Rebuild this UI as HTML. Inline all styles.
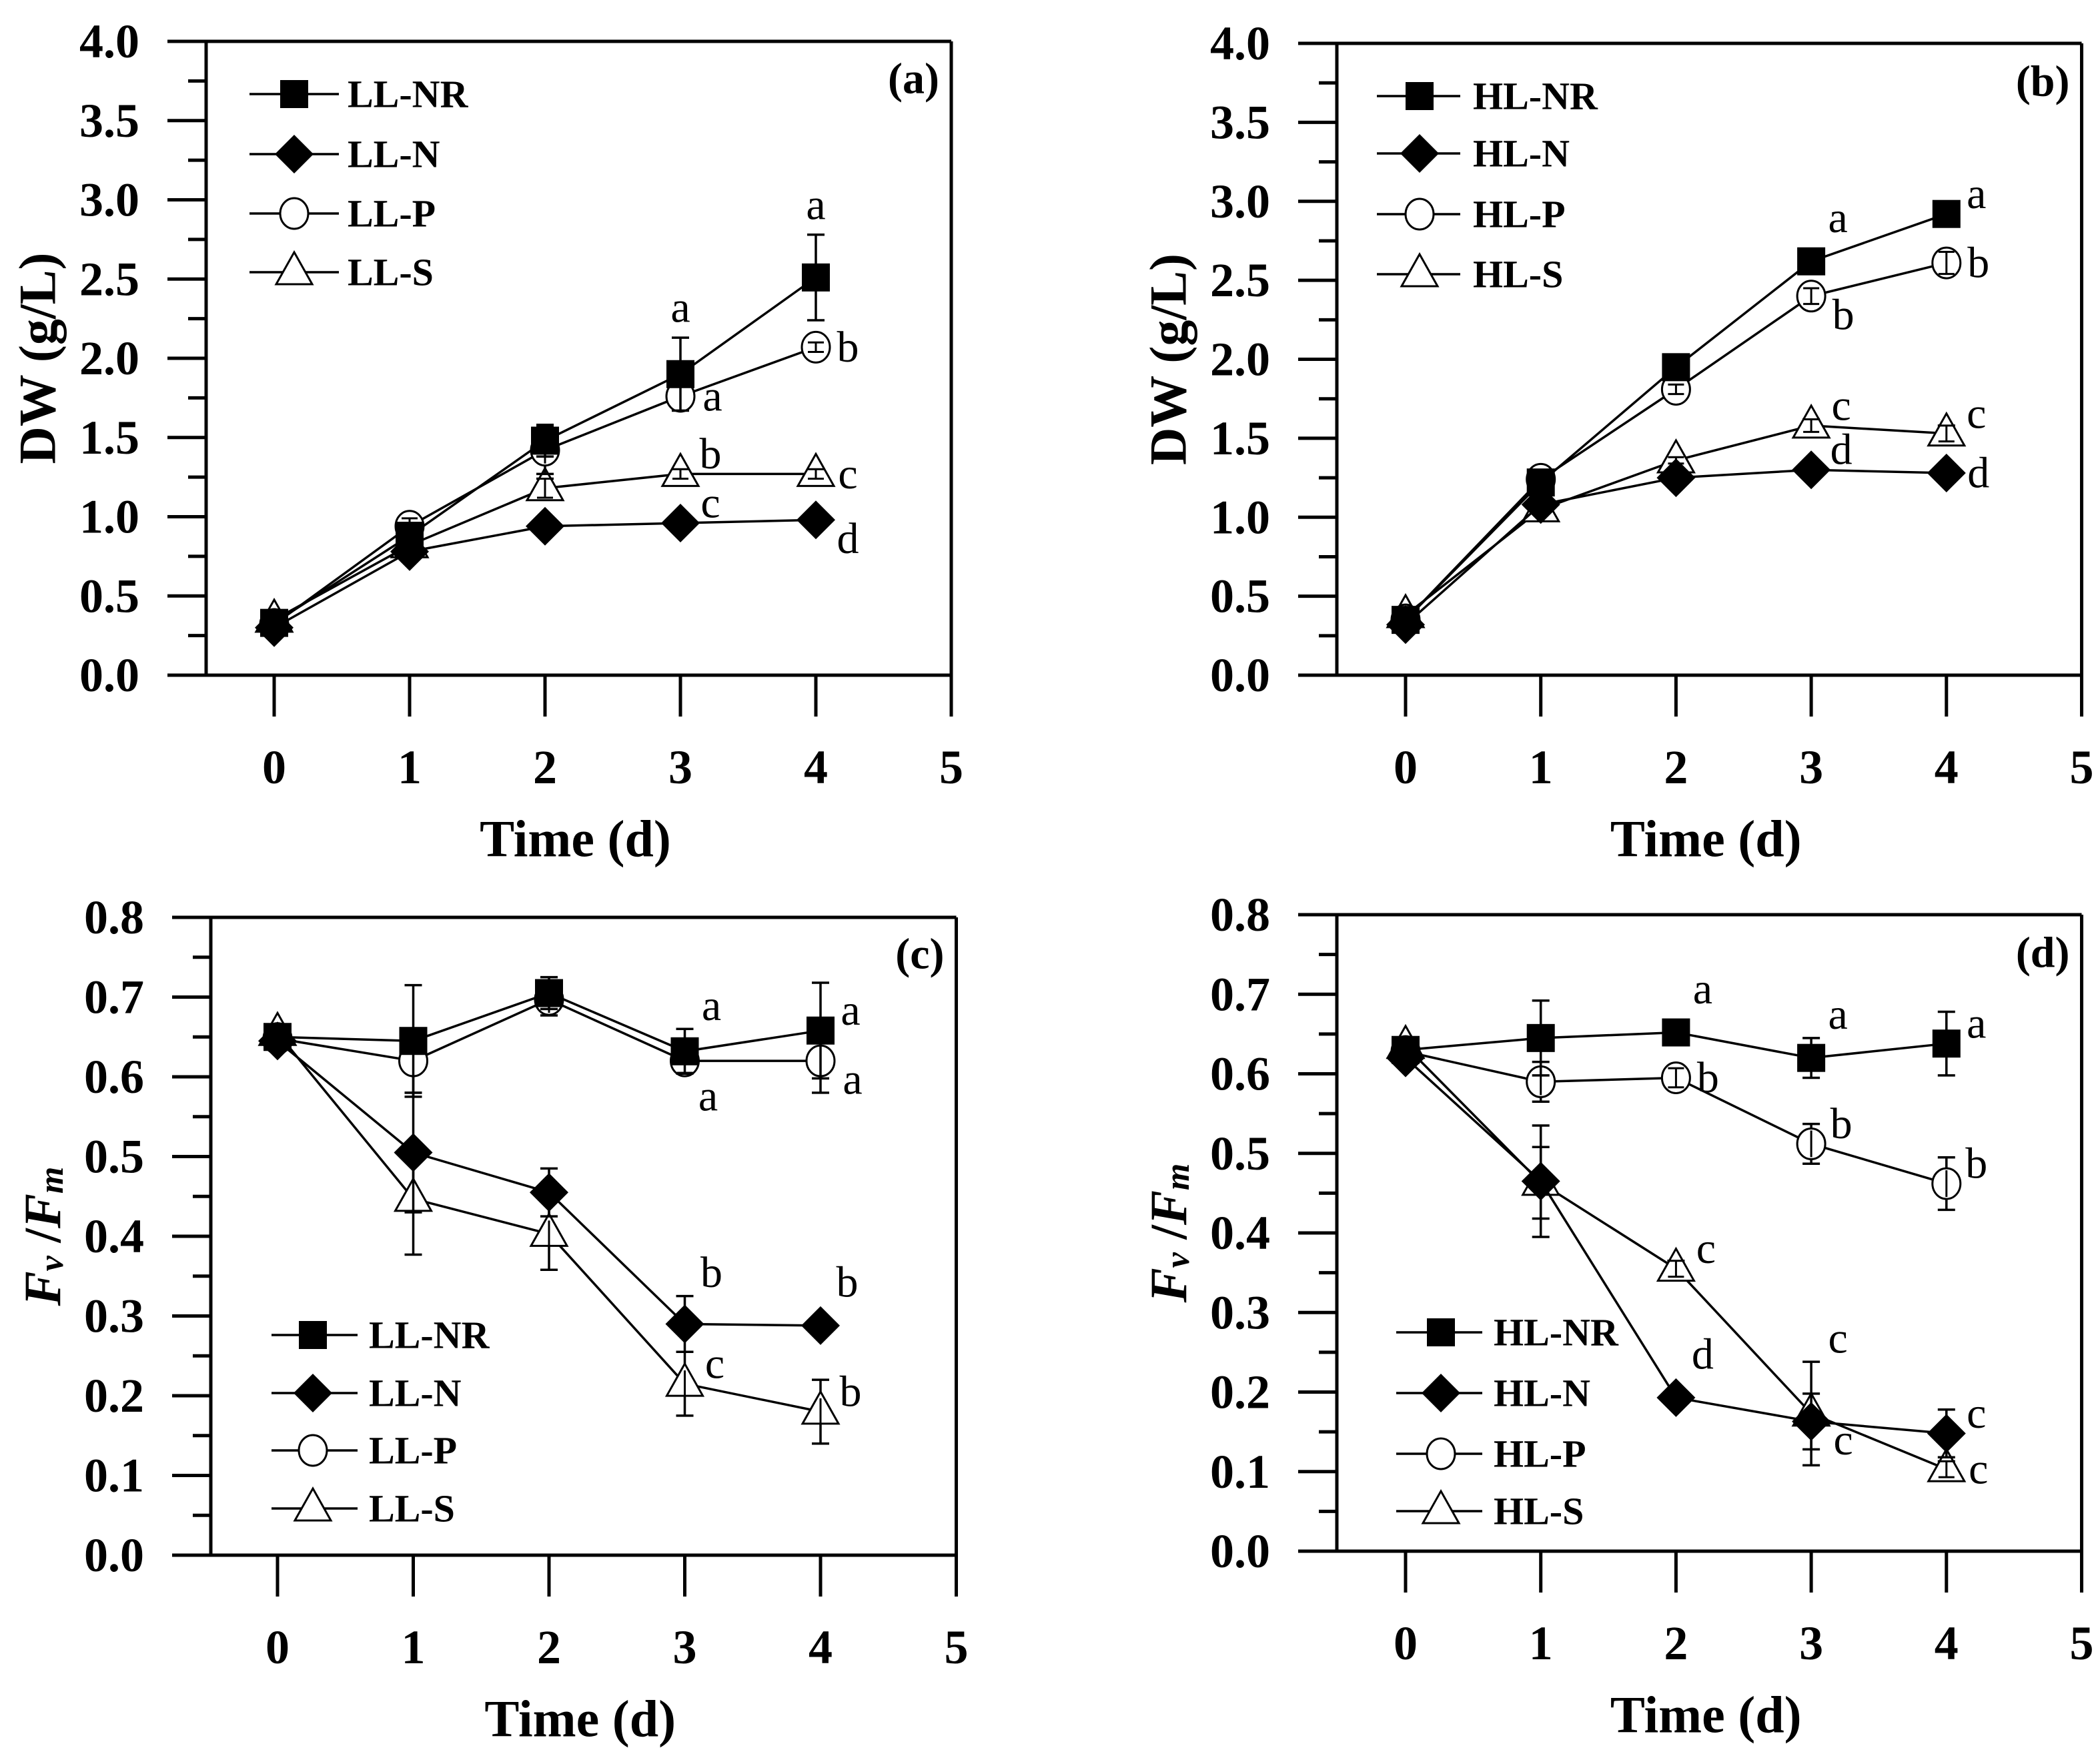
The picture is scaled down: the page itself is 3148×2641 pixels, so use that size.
<!DOCTYPE html>
<html><head><meta charset="utf-8">
<style>
html,body{margin:0;padding:0;background:#fff;}
svg{display:block;}
text{font-family:"Liberation Serif","DejaVu Serif",serif;fill:#000;}
</style></head>
<body>
<svg id="fig" width="3148" height="2641" viewBox="0 0 3148 2641" xmlns="http://www.w3.org/2000/svg"></svg>
<script>
// ---- data ----
const days = [0, 1, 2, 3, 4];
const xTicks = [0, 1, 2, 3, 4, 5];
const dwTicks = ["0.0","0.5","1.0","1.5","2.0","2.5","3.0","3.5","4.0"];
const fvTicks = ["0.0","0.1","0.2","0.3","0.4","0.5","0.6","0.7","0.8"];

// Panel a (LL, DW)
const aNR = [0.33, 0.88, 1.48, 1.90, 2.51];
const aNRerr = [0.02, 0.07, 0.10, 0.23, 0.27];
const aN = [0.30, 0.78, 0.94, 0.96, 0.98];
const aNerr = [0.02, 0.03, 0.02, 0.02, 0.02];
const aP = [0.32, 0.94, 1.42, 1.76, 2.07];
const aPerr = [0.03, 0.05, 0.15, 0.09, 0.03];
const aS = [0.35, 0.82, 1.18, 1.27, 1.27];
const aSerr = [0.03, 0.04, 0.06, 0.03, 0.03];

// Panel b (HL, DW)
const bNR = [0.35, 1.22, 1.95, 2.62, 2.92];
const bNRerr = [0.02, 0.03, 0.03, 0.03, 0.03];
const bN = [0.32, 1.08, 1.25, 1.30, 1.28];
const bNerr = [0.02, 0.02, 0.02, 0.02, 0.02];
const bP = [0.35, 1.24, 1.81, 2.40, 2.61];
const bPerr = [0.02, 0.03, 0.03, 0.05, 0.07];
const bS = [0.38, 1.05, 1.36, 1.58, 1.53];
const bSerr = [0.02, 0.03, 0.02, 0.04, 0.05];

// Panel c (LL, Fv/Fm)
const cNR = [0.650, 0.645, 0.705, 0.632, 0.658];
const cNRerr = [0.005, 0.070, 0.020, 0.028, 0.060];
const cN = [0.645, 0.505, 0.455, 0.290, 0.288];
const cNerr = [0.005, 0.075, 0.030, 0.035, 0.005];
const cP = [0.648, 0.620, 0.697, 0.620, 0.620];
const cPerr = [0.005, 0.040, 0.020, 0.015, 0.040];
const cS = [0.655, 0.447, 0.403, 0.215, 0.180];
const cSerr = [0.005, 0.070, 0.045, 0.040, 0.040];

// Panel d (HL, Fv/Fm)
const dNR = [0.630, 0.645, 0.652, 0.620, 0.638];
const dNRerr = [0.005, 0.047, 0.005, 0.025, 0.040];
const dN = [0.620, 0.465, 0.193, 0.163, 0.148];
const dNerr = [0.005, 0.070, 0.005, 0.035, 0.030];
const dP = [0.628, 0.590, 0.595, 0.512, 0.462];
const dPerr = [0.005, 0.025, 0.012, 0.025, 0.033];
const dS = [0.635, 0.463, 0.355, 0.173, 0.103];
const dSerr = [0.005, 0.045, 0.010, 0.065, 0.010];

// significance letters: [seriesIndex(0 NR,1 N,2 P,3 S), dayIndex, letter, placement]
const aLetters = [[0,3,"a","top"],[2,3,"a","right"],[3,3,"b","rightup"],[1,3,"c","rightup"],[0,4,"a","top"],[2,4,"b","right"],[3,4,"c","right"],[1,4,"d","rightdown"]];
const bLetters = [[0,3,"a","topright"],[0,4,"a","rightup"],[2,3,"b","rightdown"],[2,4,"b","right"],[3,3,"c","rightup"],[3,4,"c","rightup"],[1,3,"d","rightup"],[1,4,"d","right"]];
const cLetters = [[0,3,"a","topright"],[0,4,"a","rightup"],[2,3,"a","below"],[2,4,"a","rightdown"],[1,3,"b","topright"],[1,4,"b","topright"],[3,3,"c","rightup"],[3,4,"b","rightup"]];
const dLetters = [[0,2,"a","topright"],[0,3,"a","topright"],[0,4,"a","rightup"],[2,2,"b","right"],[2,3,"b","rightup"],[2,4,"b","rightup"],[3,2,"c","rightup"],[1,2,"d","topright"],[3,3,"c","topright"],[1,3,"c","rightdown"],[1,4,"c","rightup"],[3,4,"c","right"]];

// ---- drawing ----
const NS = "http://www.w3.org/2000/svg";
const svg = document.getElementById("fig");
function mk(tag, attrs, parent) {
  const e = document.createElementNS(NS, tag);
  for (const k in attrs) e.setAttribute(k, attrs[k]);
  (parent || svg).appendChild(e);
  return e;
}

const panels = [
  {id:"a", L:309, T:62, B:1012, x0:411, dx:203, ymax:4, ticks:dwTicks, minor:8, title:"DW (g/L)", fv:false, prefix:"LL",
   series:[aNR,aN,aP,aS], errs:[aNRerr,aNerr,aPerr,aSerr], letters:aLetters,
   leg:{x1:374,x2:508,mx:441,tx:521,ys:[141,231,320,408]}, lab:"(a)", labY:118},
  {id:"b", L:2004, T:65, B:1012, x0:2107, dx:202.7, ymax:4, ticks:dwTicks, minor:8, title:"DW (g/L)", fv:false, prefix:"HL",
   series:[bNR,bN,bP,bS], errs:[bNRerr,bNerr,bPerr,bSerr], letters:bLetters,
   leg:{x1:2064,x2:2189,mx:2128,tx:2208,ys:[144,230,321,411]}, lab:"(b)", labY:122},
  {id:"c", L:316, T:1375, B:2331, x0:416, dx:203.5, ymax:0.8, ticks:fvTicks, minor:8, title:"Fv/Fm", fv:true, prefix:"LL",
   series:[cNR,cN,cP,cS], errs:[cNRerr,cNerr,cPerr,cSerr], letters:cLetters,
   leg:{x1:407,x2:536,mx:469,tx:553,ys:[2001,2088,2174,2261]}, lab:"(c)", labY:1430},
  {id:"d", L:2004, T:1371, B:2325, x0:2107, dx:202.7, ymax:0.8, ticks:fvTicks, minor:8, title:"Fv/Fm", fv:true, prefix:"HL",
   series:[dNR,dN,dP,dS], errs:[dNRerr,dNerr,dPerr,dSerr], letters:dLetters,
   leg:{x1:2093,x2:2222,mx:2160,tx:2239,ys:[1997,2088,2179,2265]}, lab:"(d)", labY:1428}
];
const names = ["NR","N","P","S"];

function marker(g, kind, cx, cy) {
  let e;
  if (kind === 0) e = mk("rect", {x:cx-21, y:cy-21, width:42, height:42, fill:"#000"}, g);
  else if (kind === 1) e = mk("polygon", {points:`${cx},${cy-29} ${cx+29},${cy} ${cx},${cy+29} ${cx-29},${cy}`, fill:"#000"}, g);
  else if (kind === 2) e = mk("ellipse", {cx:cx, cy:cy, rx:21, ry:23, fill:"#fff", stroke:"#000", "stroke-width":3}, g);
  else e = mk("polygon", {points:`${cx},${cy-30} ${cx+27},${cy+18} ${cx-27},${cy+18}`, fill:"#fff", stroke:"#000", "stroke-width":3}, g);
  return e;
}

panels.forEach(p => {
  const g = mk("g", {});
  
  
  const R = p.x0 + 5 * p.dx;
  const yS = v => p.B - (v / p.ymax) * (p.B - p.T);
  const xS = d => p.x0 + d * p.dx;

  // axes
  const ax = mk("g", {stroke:"#000", "stroke-width":5, fill:"none"}, g);
  
  
  mk("line", {x1:p.L-58, y1:p.T, x2:R, y2:p.T}, ax);
  mk("line", {x1:p.L-58, y1:p.B, x2:R, y2:p.B}, ax);
  mk("line", {x1:p.L, y1:p.T, x2:p.L, y2:p.B}, ax);
  mk("line", {x1:R, y1:p.T, x2:R, y2:p.B}, ax);
  // y ticks
  const nMajor = p.ticks.length - 1;
  for (let i = 0; i <= nMajor * 2; i++) {
    const y = p.B - i * (p.B - p.T) / (nMajor * 2);
    const major = i % 2 === 0;
    mk("line", {x1:p.L - (major ? 58 : 27), y1:y, x2:p.L, y2:y}, ax);
  }
  p.ticks.forEach((t, i) => {
    const v = i * p.ymax / nMajor;
    const tx = mk("text", {x:p.L - 100, y:yS(v), "text-anchor":"end", "dominant-baseline":"central", "font-size":72, "font-weight":"bold"}, g);
    tx.textContent = t;
    
    
  });
  // x ticks
  xTicks.forEach(d => {
    mk("line", {x1:xS(d), y1:p.B, x2:xS(d), y2:p.B + 62}, ax);
    const tx = mk("text", {x:xS(d), y:p.B + 138, "text-anchor":"middle", "dominant-baseline":"central", "font-size":72, "font-weight":"bold"}, g);
    tx.textContent = d;
    
    
  });
  // x title
  const xt = mk("text", {x:(p.L + R) / 2 - 5, y:p.B + 245, "text-anchor":"middle", "dominant-baseline":"central", "font-size":78, "font-weight":"bold"}, g);
  xt.textContent = "Time (d)";
  
  
  // y title
  const yc = (p.T + p.B) / 2;
  const ytx = p.L - 253;
  const yt = mk("text", {x:ytx, y:yc, transform:`rotate(-90 ${ytx} ${yc})`, "text-anchor":"middle", "dominant-baseline":"central", "font-size":78, "font-weight":"bold"}, g);
  if (p.fv) {
    const t1 = mk("tspan", {"font-style":"italic"}, yt); t1.textContent = "F";
    const t2 = mk("tspan", {"font-style":"italic", "font-size":52, dy:14}, yt); t2.textContent = "v";
    const t3 = mk("tspan", {dy:-14}, yt); t3.textContent = " /";
    const t4 = mk("tspan", {"font-style":"italic"}, yt); t4.textContent = "F";
    const t5 = mk("tspan", {"font-style":"italic", "font-size":52, dy:14}, yt); t5.textContent = "m";
  } else yt.textContent = p.title;
  
  
  // panel label
  const pl = mk("text", {x:R - 18, y:p.labY, "text-anchor":"end", "dominant-baseline":"central", "font-size":66, "font-weight":"bold"}, g);
  pl.textContent = p.lab;
  
  

  // series (draw in order S, P, N, NR so filled are on top)
  [3,2,1,0].forEach(si => {
    const vals = p.series[si], er = p.errs[si];
    const sg = mk("g", {}, g);
    
    
    const pts = vals.map((v, i) => `${xS(days[i])},${yS(v)}`).join(" ");
    mk("polyline", {points:pts, fill:"none", stroke:"#000", "stroke-width":3.5}, sg);
    vals.forEach((v, i) => {
      const cx = xS(days[i]);
      const y1 = yS(v + er[i]), y2 = yS(v - er[i]);
      const eb = mk("g", {stroke:"#000", "stroke-width":3.5}, sg);
      
      
      mk("line", {x1:cx, y1:y1, x2:cx, y2:y2}, eb);
      mk("line", {x1:cx-13, y1:y1, x2:cx+13, y2:y1}, eb);
      mk("line", {x1:cx-13, y1:y2, x2:cx+13, y2:y2}, eb);
      const m = marker(sg, si, cx, yS(v));
      
      
      if (si >= 2) {
        const e2 = mk("g", {stroke:"#000", "stroke-width":3}, sg);
        mk("line", {x1:cx, y1:Math.max(y1, yS(v)-20), x2:cx, y2:Math.min(y2, yS(v)+20)}, e2);
        if (yS(v)-y1 < 20) mk("line", {x1:cx-12, y1:y1, x2:cx+12, y2:y1}, e2);
        if (y2-yS(v) < 20) mk("line", {x1:cx-12, y1:y2, x2:cx+12, y2:y2}, e2);
      }
    });
  });

  // letters
  p.letters.forEach(l => {
    const v = p.series[l[0]][l[1]], e = p.errs[l[0]][l[1]];
    const cx = xS(days[l[1]]);
    let x, y;
    const cy = yS(v);
    switch (l[3]) {
      case "top": x = cx; y = yS(v + e) - 45; break;
      case "topright": x = cx + 40; y = Math.min(yS(v + e), cy - 30) - 35; break;
      case "right": x = cx + 48; y = cy; break;
      case "rightup": x = cx + 45; y = cy - 30; break;
      case "rightdown": x = cx + 48; y = cy + 28; break;
      case "below": x = cx + 35; y = yS(v - e) + 35; break;
    }
    const t = mk("text", {x:x, y:y, "text-anchor":"middle", "dominant-baseline":"central", "font-size":66}, g);
    t.textContent = l[2];
    
    
  });

  // legend
  const lg = mk("g", {}, g);
  
  
  names.forEach((n, si) => {
    const ly = p.leg.ys[si];
    const eg = mk("g", {}, lg);
    
    
    mk("line", {x1:p.leg.x1, y1:ly, x2:p.leg.x2, y2:ly, stroke:"#000", "stroke-width":3.5}, eg);
    marker(eg, si, p.leg.mx, ly);
    const t = mk("text", {x:p.leg.tx, y:ly, "dominant-baseline":"central", "font-size":58, "font-weight":"bold"}, eg);
    t.textContent = p.prefix + "-" + n;
  });
});
</script>
</body></html>
